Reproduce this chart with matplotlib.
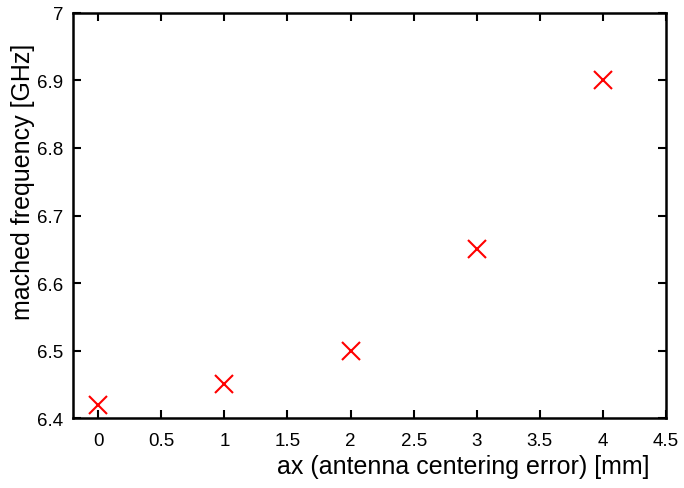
import matplotlib.pyplot as plt

# antenna centering error vs matched frequency
ax_err = [0, 1, 2, 3, 4]
freq = [6.42, 6.45, 6.50, 6.65, 6.90]

plt.rcParams['font.family'] = ['Liberation Sans', 'DejaVu Sans']

fig = plt.figure(figsize=(6.84, 4.89), dpi=100)
ax = fig.add_axes([0.1067, 0.1431, 0.867, 0.8283])

ax.plot(ax_err, freq, linestyle='none', marker='x', color='red',
        markersize=13, markeredgewidth=1.5)

ax.set_xlim(-0.2, 4.5)
ax.set_ylim(6.4, 7.0)
ax.set_xticks([0, 0.5, 1, 1.5, 2, 2.5, 3, 3.5, 4, 4.5])
ax.set_xticklabels(['0', '0.5', '1', '1.5', '2', '2.5', '3', '3.5', '4', '4.5'])
ax.set_yticks([6.4, 6.5, 6.6, 6.7, 6.8, 6.9, 7.0])
ax.set_yticklabels(['6.4', '6.5', '6.6', '6.7', '6.8', '6.9', '7'])

for s in ax.spines.values():
    s.set_linewidth(1.8)
ax.tick_params(direction='in', length=6, width=1.5, top=True, right=True,
               labelsize=13.5)
ax.tick_params(axis='x', pad=10)
ax.tick_params(axis='y', pad=7)

ax.set_xlabel('ax (antenna centering error) [mm]', fontsize=18, ha='right', va='center')
ax.xaxis.set_label_coords(0.973, -0.118)
ax.set_ylabel('mached frequency [GHz]', fontsize=18, ha='center', va='center')
ax.yaxis.set_label_coords(-0.084, 0.586)

fig.savefig('out.png', dpi=100)
